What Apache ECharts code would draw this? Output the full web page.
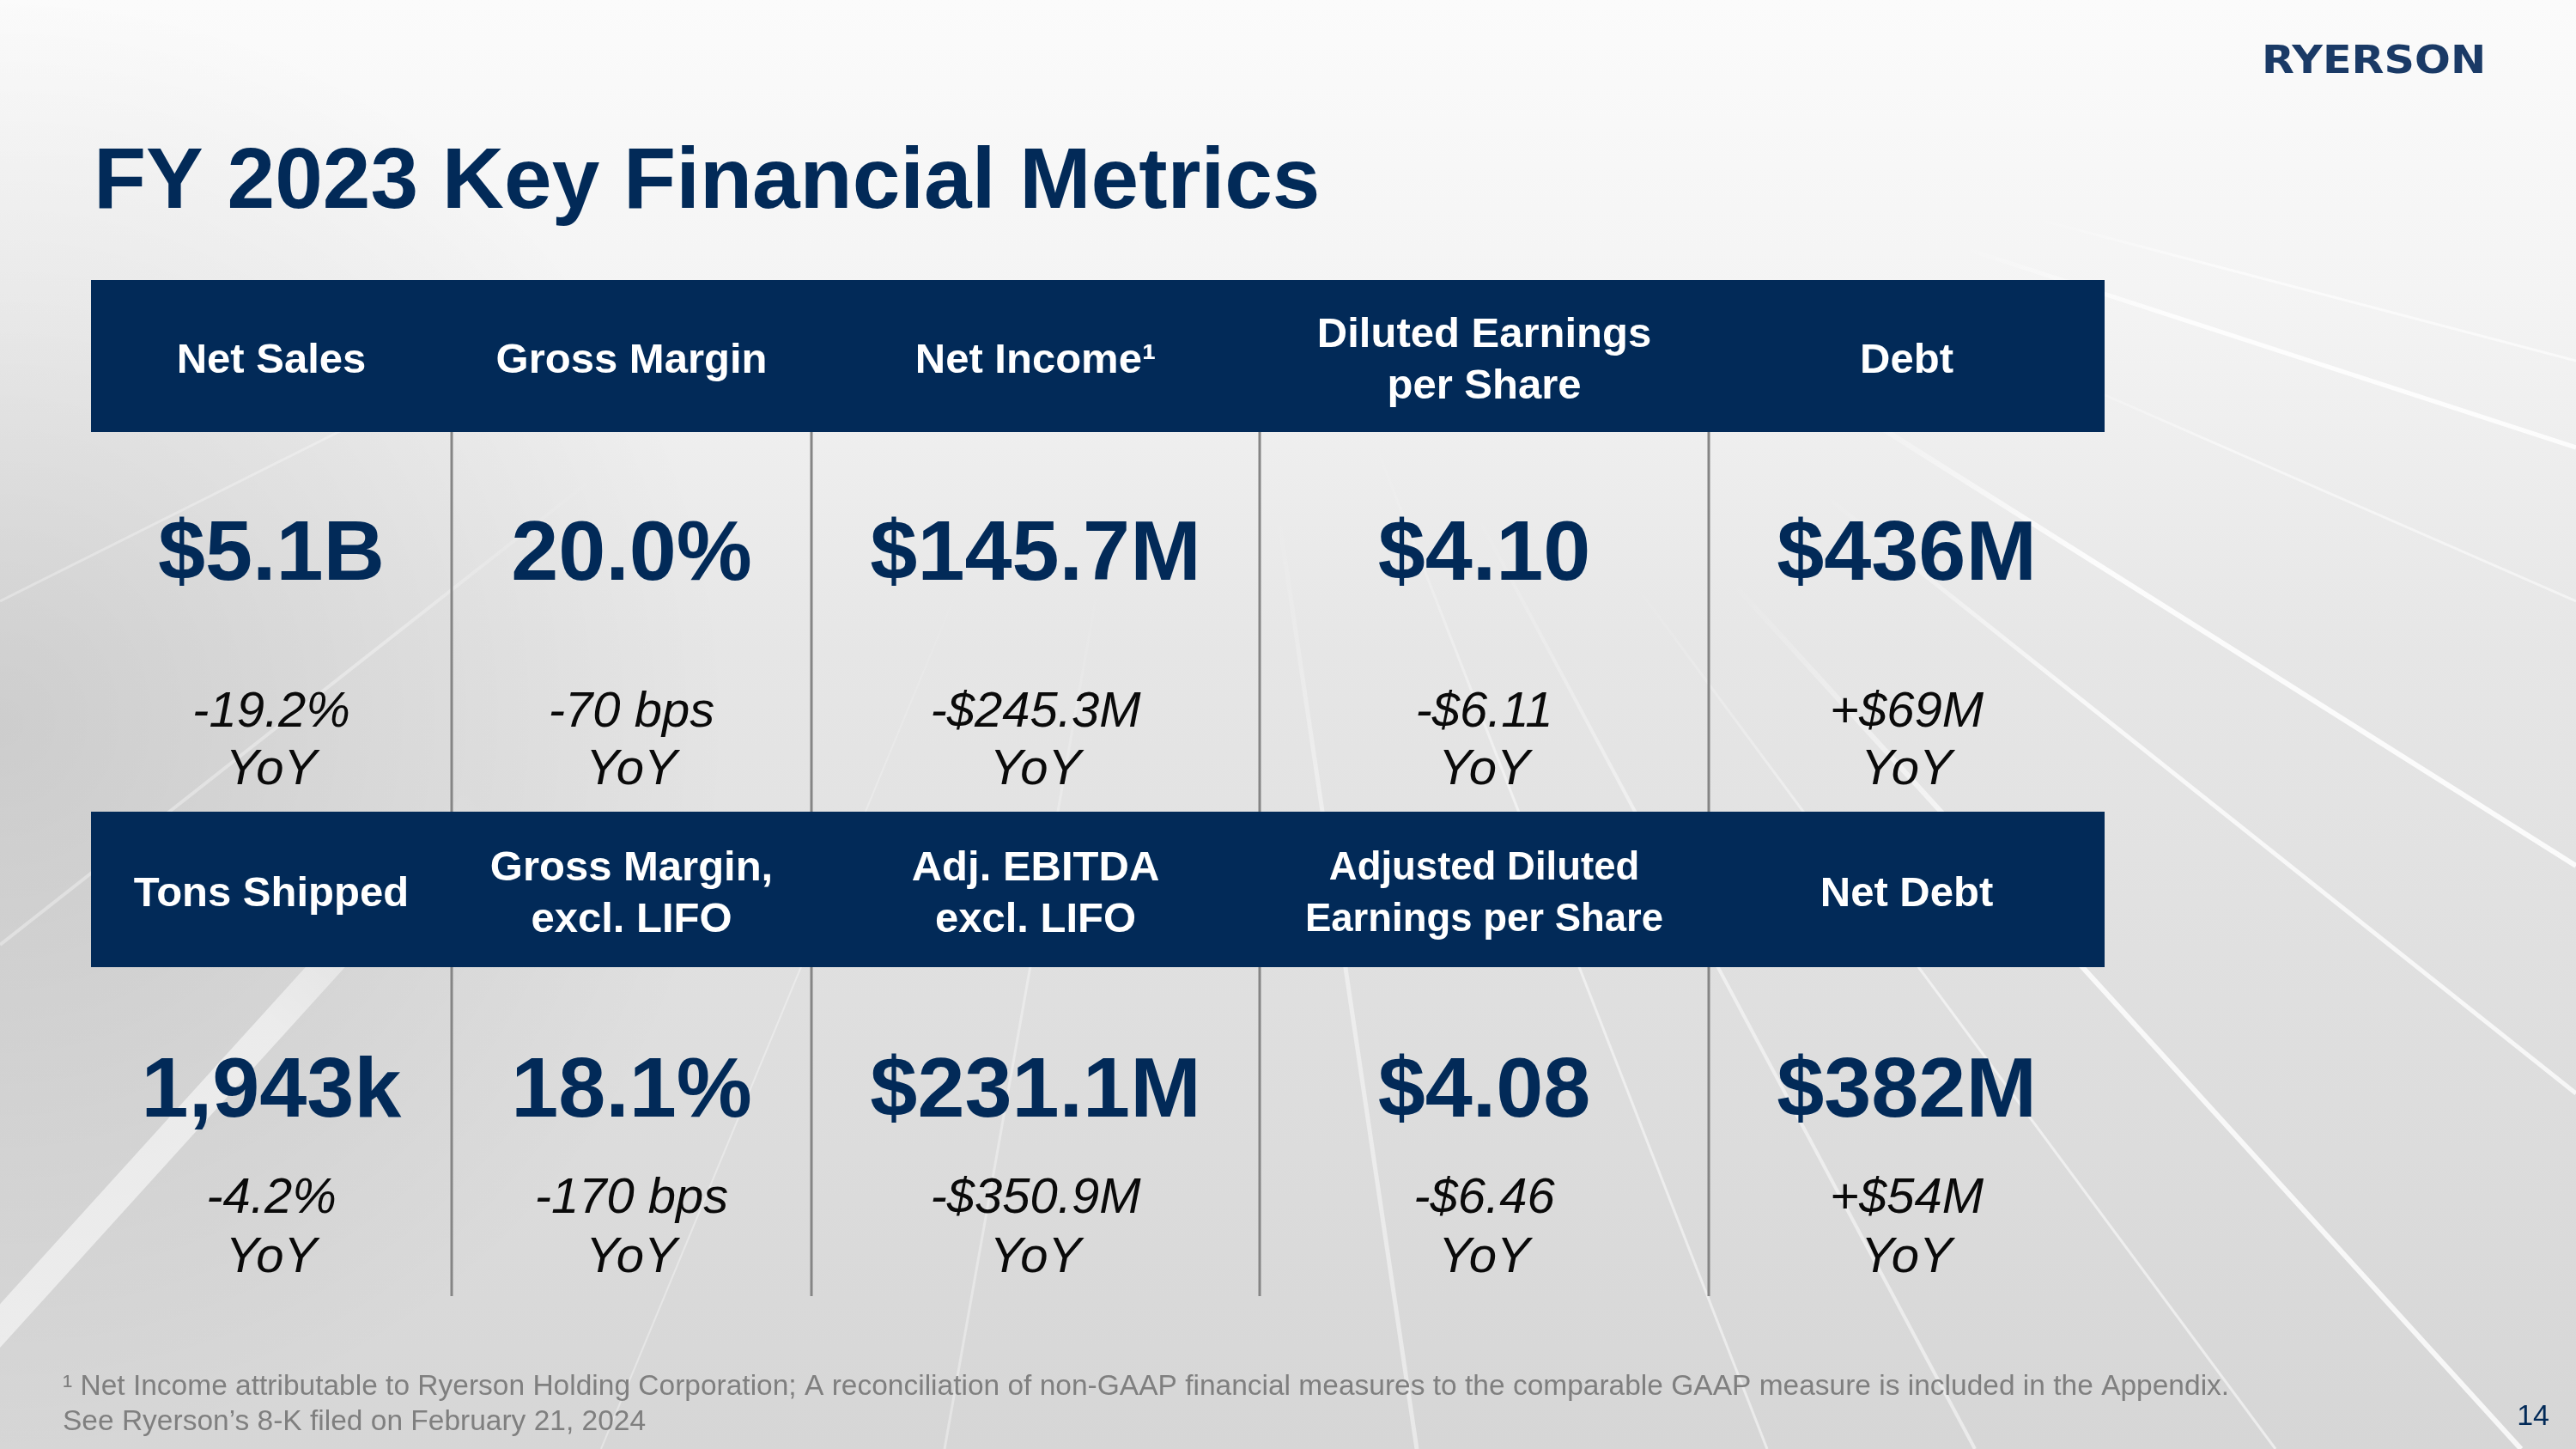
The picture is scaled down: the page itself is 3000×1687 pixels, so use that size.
<!DOCTYPE html>
<html>
<head>
<meta charset="utf-8">
<script src="https://cdn.jsdelivr.net/npm/echarts/dist/echarts.min.js"></script>
<style>html,body{margin:0;padding:0;background:#fff;}#main{width:3000px;height:1687px;}</style>
</head>
<body>
<div id="main"></div>
<script>
// ---------- DATA ----------
const titleText = 'FY 2023 Key Financial Metrics';
const logoText = 'RYERSON';
const headersTop = ['Net Sales', 'Gross Margin', 'Net Income', 'Diluted Earnings\nper Share', 'Debt'];
const headerMarksTop = ['', '', '1', '', ''];
const valuesTop = ['$5.1B', '20.0%', '$145.7M', '$4.10', '$436M'];
const changesTop = ['-19.2%', '-70 bps', '-$245.3M', '-$6.11', '+$69M'];
const headersBottom = ['Tons Shipped', 'Gross Margin,\nexcl. LIFO', 'Adj. EBITDA\nexcl. LIFO', 'Adjusted Diluted\nEarnings per Share', 'Net Debt'];
const headerMarksBottom = ['', '', '', '', ''];
const valuesBottom = ['1,943k', '18.1%', '$231.1M', '$4.08', '$382M'];
const changesBottom = ['-4.2%', '-170 bps', '-$350.9M', '-$6.46', '+$54M'];
const periodLabel = 'YoY';
const footnoteMark = '1';
const footnoteLines = [
  'Net Income attributable to Ryerson Holding Corporation; A reconciliation of non-GAAP financial measures to the comparable GAAP measure is included in the Appendix.',
  'See Ryerson\u2019s 8-K filed on February 21, 2024'
];
const pageNumber = '14';

// ---------- LAYOUT / STYLE ----------
const W = 3000, H = 1687;
const F = '"Liberation Sans", Arial, sans-serif';
const NAVY = '#022a58';
const SUP = {'1': '\u00b9', '2': '\u00b2', '3': '\u00b3'};
const L = {
  colEdges: [106, 526, 945, 1467, 1990, 2451],
  blocks: [
    {hTop: 326, hBot: 503, vBot: 945, headY: 420, valueY: 648, chgY: 830, yoyY: 897},
    {hTop: 945, hBot: 1126, vBot: 1509, headY: 1041, valueY: 1273, chgY: 1396, yoyY: 1465}
  ],
  headerFont: 49,
  headerFontOverride: {'1-3': 45.5},
  headerLine: 60,
  valueFont: 99,
  changeFont: 58
};
const headerRows = [headersTop, headersBottom];
const markRows = [headerMarksTop, headerMarksBottom];
const valueRows = [valuesTop, valuesBottom];
const changeRows = [changesTop, changesBottom];

const cells = [];
for (let b = 0; b < 2; b++) for (let c = 0; c < 5; c++) cells.push([c, b]);

function renderItem(params, api) {
  const c = api.value(0), b = api.value(1);
  const blk = L.blocks[b];
  const x0 = L.colEdges[c], x1 = L.colEdges[c + 1], cx = (x0 + x1) / 2;
  const a = api.coord([x0, blk.hTop]);
  const d = api.coord([x1, blk.hBot]);
  const hc = api.coord([cx, blk.headY]);
  const vc = api.coord([cx, blk.valueY]);
  const cc = api.coord([cx, blk.chgY]);
  const yc = api.coord([cx, blk.yoyY]);
  const fs = L.headerFontOverride[b + '-' + c] || L.headerFont;
  const mark = markRows[b][c];
  const htext = headerRows[b][c] + (mark ? (SUP[mark] || mark) : '');
  const children = [
    {type: 'rect', shape: {x: a[0], y: a[1], width: d[0] - a[0], height: d[1] - a[1]}, style: {fill: NAVY}},
    {type: 'text', x: hc[0], y: hc[1], style: {
      text: htext, fill: '#ffffff', fontFamily: F, fontWeight: 'bold', fontSize: fs,
      lineHeight: L.headerLine, align: 'center', verticalAlign: 'middle'
    }},
    {type: 'text', x: vc[0], y: vc[1], style: {
      text: valueRows[b][c], fill: NAVY, fontFamily: F, fontWeight: 'bold', fontSize: L.valueFont,
      align: 'center', verticalAlign: 'middle'
    }},
    {type: 'text', x: cc[0], y: cc[1], style: {
      text: changeRows[b][c], fill: '#0a0a0a', fontFamily: F, fontStyle: 'italic', fontSize: L.changeFont,
      align: 'center', verticalAlign: 'middle'
    }},
    {type: 'text', x: yc[0], y: yc[1], style: {
      text: periodLabel, fill: '#0a0a0a', fontFamily: F, fontStyle: 'italic', fontSize: L.changeFont,
      align: 'center', verticalAlign: 'middle'
    }}
  ];
  if (c > 0) {
    const t = api.coord([x0, blk.hBot]);
    const btm = api.coord([x0, blk.vBot]);
    children.push({type: 'line', shape: {x1: t[0], y1: t[1], x2: btm[0], y2: btm[1]}, style: {stroke: '#858585', lineWidth: 3}});
  }
  return {type: 'group', children: children};
}

// background rays (decoration): [endX, endY, width, opacity, startFraction]
const VP = [1400, 0];
const rays = [
  [3000, 521, 5, 0.85, 0.55], [3000, 700, 3, 0.5, 0.6], [3000, 1008, 6, 0.85, 0.45], [3000, 1273, 5, 0.75, 0.45],
  [2936, 1687, 6, 0.8, 0.4], [2650, 1687, 3, 0.55, 0.4], [2300, 1687, 4, 0.5, 0.35], [3000, 420, 3, 0.6, 0.6],
  [2058, 1687, 3, 0.5, 0.3], [1650, 1687, 5, 0.45, 0.35], [1100, 1687, 3, 0.35, 0.4], [700, 1687, 2, 0.35, 0.4],
  [-130, 1687, 34, 0.55, 0.55], [0, 1100, 4, 0.35, 0.5], [0, 700, 3, 0.3, 0.5]
];
const bgElems = [
  {type: 'rect', z: -100, shape: {x: 0, y: 0, width: W, height: H}, style: {
    fill: new echarts.graphic.LinearGradient(0, 0, 0, 1, [
      {offset: 0, color: '#fbfbfb'}, {offset: 0.2, color: '#f4f4f4'},
      {offset: 0.45, color: '#e6e6e6'}, {offset: 1, color: '#d6d6d6'}
    ])
  }},
  {type: 'rect', z: -99, shape: {x: 0, y: 0, width: 900, height: H}, style: {
    fill: new echarts.graphic.RadialGradient(0, 0.5, 0.95, [
      {offset: 0, color: 'rgba(0,0,0,0.10)'}, {offset: 1, color: 'rgba(0,0,0,0)'}
    ])
  }}
];
rays.forEach(r => {
  const sx = VP[0] + (r[0] - VP[0]) * r[4];
  const sy = VP[1] + (r[1] - VP[1]) * r[4];
  bgElems.push({type: 'line', z: -98, shape: {x1: sx, y1: sy, x2: r[0], y2: r[1]},
    style: {lineWidth: r[2], stroke: new echarts.graphic.LinearGradient(sx, sy, r[0], r[1], [
      {offset: 0, color: 'rgba(255,255,255,0)'},
      {offset: 0.35, color: 'rgba(255,255,255,' + r[3] + ')'},
      {offset: 1, color: 'rgba(255,255,255,' + r[3] + ')'}
    ], true)}});
});

const chart = echarts.init(document.getElementById('main'), null, {renderer: 'canvas'});
chart.setOption({
  animation: false,
  grid: {left: 0, right: 0, top: 0, bottom: 0},
  xAxis: {type: 'value', min: 0, max: W, show: false},
  yAxis: {type: 'value', min: 0, max: H, inverse: true, show: false},
  graphic: {elements: bgElems.concat([
    {type: 'text', x: 109, y: 214, style: {text: titleText, fill: NAVY, fontFamily: F, fontWeight: 'bold', fontSize: 100, verticalAlign: 'middle'}},
    {type: 'text', x: 2634, y: 74, scaleX: 1.12, style: {text: logoText, fill: '#1a3a66', fontFamily: '"DejaVu Sans", sans-serif', fontWeight: 'bold', fontSize: 44, verticalAlign: 'middle'}},
    {type: 'text', x: 73, y: 1615, style: {
      text: (SUP[footnoteMark] || footnoteMark) + ' ' + footnoteLines[0], fill: '#7f7f7f', fontFamily: F, fontSize: 33.5, verticalAlign: 'middle'
    }},
    {type: 'text', x: 73, y: 1656, style: {text: footnoteLines[1], fill: '#7f7f7f', fontFamily: F, fontSize: 33.5, verticalAlign: 'middle'}},
    {type: 'text', x: 2969, y: 1650, style: {text: pageNumber, fill: NAVY, fontFamily: F, fontSize: 34, align: 'right', verticalAlign: 'middle'}}
  ])},
  series: [{
    type: 'custom',
    renderItem: renderItem,
    data: cells,
    clip: false,
    silent: true,
    z: 5
  }]
});
</script>
</body>
</html>
